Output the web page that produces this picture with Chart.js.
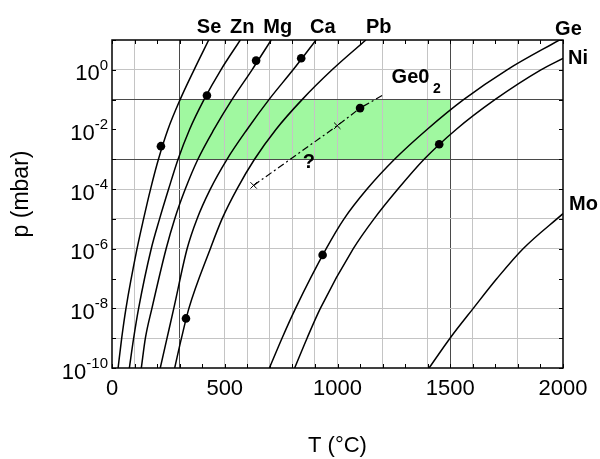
<!DOCTYPE html>
<html><head><meta charset="utf-8">
<script src="https://cdn.jsdelivr.net/npm/chart.js@4.4.1/dist/chart.umd.min.js"></script>
<style>html,body{margin:0;padding:0;background:#fff}canvas{display:block}</style>
</head><body>
<div style="width:600px;height:459px;position:relative"><canvas id="c" width="600" height="459"></canvas></div>
<script>
// ---- data (T in °C, p in mbar) ----
const decades = [1e-10,1e-9,1e-8,1e-6,1e-5,1e-4,1e-3,1e-2,1e-1,1e0,1e1];
const seT = [27, 43, 62, 111, 140, 171, 206, 248, 302, 364, 429];
const znT = [77, 96, 118, 174, 211, 251, 293, 344, 408, 483, 569];
const mgT = [130, 148, 177, 240, 278, 325, 381, 452, 532, 621, 706];
const caT = [214, 244, 274, 333, 377, 436, 510, 599, 696, 803, 905];
const pbT = [278, 308, 341, 436, 488, 554, 632, 727, 843, 976, 1126];
const geT = [698, 754, 814, 950, 1029, 1131, 1253, 1397, 1559, 1752, 1984];
const niT = [810, 865, 924, 1070, 1162, 1268, 1384, 1526, 1698, 1902, 2000];
const niP = [1e-10,1e-9,1e-8,1e-6,1e-5,1e-4,1e-3,1e-2,1e-1,1e0,2.43];
const moT = [1406, 1499, 1602, 1707, 1823, 2000];
const moP = [1e-10, 1e-9, 1e-8, 1e-7, 1e-6, 1.5e-5];
const geo2T = [628, 999, 1100, 1203];
const geo2P = [1.33e-4, 1.33e-2, 0.052, 0.146];
const crossT = [628, 999];
const crossP = [1.33e-4, 1.33e-2];
const meltT = [217, 421, 639, 839, 328, 934, 1451, 1100];
const meltP = [2.75e-3, 0.138, 2.04, 2.45, 4.6e-9, 6.2e-7, 3.2e-3, 0.052];
const xTickLabels = [0, 500, 1000, 1500, 2000];
const yTickExps = [0, -2, -4, -6, -8, -10];
const boxT = [300, 1500];
const boxP = [1e-3, 1e-1];
const darkX = [300, 1500];
const lightX = [100, 500, 600, 700, 800, 900, 1000, 1200, 1400, 1600, 1800];
const darkY = [1e-1, 1e-3];
const lightY = [1e0, 1e-4, 1e-5, 1e-6, 1e-8, 1e-9];
// labels: text, T (°C), p (mbar) or dy => above the plot (px from top)
const notes = [
  {t:'Se', T:376, dy:-7}, {t:'Zn', T:523, dy:-7}, {t:'Mg', T:671, dy:-7},
  {t:'Ca', T:878, dy:-7}, {t:'Pb', T:1126, dy:-7}, {t:'Ge', T:1965, dy:-5},
  {t:'Ni', T:2022, p:1.61}, {t:'Mo', T:2027, p:2.04e-5},
  {t:'Ge0', T:1240, p:0.352}, {t:'?', T:846, p:4.95e-4}
];
const sub = {t:'2', T:1423, p:0.163};

const zip = (xs, ys) => xs.map((x,i)=>({x, y: ys[i]}));
const curve = (T, P) => ({data: zip(T, P), borderColor:'#000', borderWidth:1.5, pointRadius:0,
  cubicInterpolationMode:'monotone', fill:false});
const FONT = "'Liberation Sans', Arial, Helvetica, sans-serif";

const decor = {
  id:'decor',
  beforeDraw(chart){
    const {ctx, scales:{x, y}} = chart;
    ctx.save();
    ctx.fillStyle = '#fff'; ctx.fillRect(0,0,chart.width,chart.height);
    ctx.fillStyle = '#a0f8a0';
    const x0 = x.getPixelForValue(boxT[0]), x1 = x.getPixelForValue(boxT[1]);
    const y0 = y.getPixelForValue(boxP[1]), y1 = y.getPixelForValue(boxP[0]);
    ctx.fillRect(x0, y0, x1-x0, y1-y0);
    ctx.restore();
  },
  afterDraw(chart){
    const {ctx, chartArea:a, scales:{x, y}} = chart;
    ctx.save();
    // inner ticks
    ctx.strokeStyle = '#000'; ctx.lineWidth = 1;
    ctx.beginPath();
    for (let v=0; v<=2000; v+=100){
      const px = Math.round(x.getPixelForValue(v))+0.5;
      ctx.moveTo(px, a.bottom); ctx.lineTo(px, a.bottom-4);
      ctx.moveTo(px, a.top); ctx.lineTo(px, a.top+4);
    }
    for (let e=-10; e<=1; e++){
      const py = Math.round(y.getPixelForValue(Math.pow(10,e)))+0.5;
      ctx.moveTo(a.left, py); ctx.lineTo(a.left+4, py);
      ctx.moveTo(a.right, py); ctx.lineTo(a.right-4, py);
    }
    ctx.stroke();
    // frame
    ctx.lineWidth = 1.5;
    ctx.strokeRect(a.left, a.top, a.right-a.left, a.bottom-a.top);
    // y tick labels 10^n
    ctx.fillStyle = '#000';
    ctx.textBaseline = 'alphabetic';
    for (const e of yTickExps){
      const py = y.getPixelForValue(Math.pow(10,e));
      ctx.font = '15px ' + FONT;
      const es = String(e);
      const ew = ctx.measureText(es).width;
      const right = a.left - 4;
      ctx.textAlign = 'left';
      ctx.fillText(es, right - ew, py);
      ctx.font = '22px ' + FONT;
      ctx.textAlign = 'right';
      ctx.fillText('10', right - ew, py + 10.5);
    }
    // axis titles
    ctx.font = '22px ' + FONT;
    ctx.textAlign = 'center';
    ctx.fillText('T (\u00B0C)', (a.left+a.right)/2, 452);
    ctx.save();
    ctx.translate(28, (a.top+a.bottom)/2 - 10);
    ctx.rotate(-Math.PI/2);
    ctx.font = '23px ' + FONT;
    ctx.fillText('p (mbar)', 0, 0);
    ctx.restore();
    // notes
    ctx.font = 'bold 20px ' + FONT;
    ctx.textAlign = 'left';
    for (const n of notes){
      const px = x.getPixelForValue(n.T);
      const py = (n.p === undefined) ? a.top + n.dy : y.getPixelForValue(n.p);
      ctx.fillText(n.t, px, py);
    }
    ctx.font = 'bold 14px ' + FONT;
    ctx.fillText(sub.t, x.getPixelForValue(sub.T), y.getPixelForValue(sub.p));
    ctx.restore();
  }
};

const gridColor = (vals, darks) => (c) => {
  const v = c.tick && c.tick.value;
  if (darks.some(d => Math.abs(d - v) <= Math.abs(d)*1e-6 + 1e-12)) return '#4a4a4a';
  if (vals.some(d => Math.abs(d - v) <= Math.abs(d)*1e-6 + 1e-12)) return '#c4c4c4';
  return 'rgba(0,0,0,0)';
};

new Chart(document.getElementById('c'), {
  type:'line',
  data:{datasets:[
    curve(seT, decades), curve(znT, decades), curve(mgT, decades), curve(caT, decades),
    curve(pbT, decades), curve(geT, decades), curve(niT, niP), curve(moT, moP),
    {data: zip(geo2T, geo2P), borderColor:'#000', borderWidth:1.2, borderDash:[7,3,2,3], pointRadius:0, fill:false},
    {type:'scatter', data: zip(crossT, crossP), pointStyle:'crossRot', pointRadius:4.5, borderColor:'#000', borderWidth:1, showLine:false},
    {type:'scatter', data: zip(meltT, meltP), pointStyle:'circle', pointRadius:4.3, backgroundColor:'#000', borderColor:'#000', borderWidth:0, showLine:false}
  ]},
  options:{
    responsive:false, animation:false, events:[],
    layout:{padding:{top:40, right:37, left:0, bottom:0}},
    plugins:{legend:{display:false}, tooltip:{enabled:false}},
    scales:{
      x:{type:'linear', min:0, max:2000,
        afterBuildTicks:(s)=>{ const t=[]; for(let v=0; v<=2000; v+=100) t.push({value:v}); s.ticks=t; },
        afterFit:(s)=>{ s.height = 91; },
        ticks:{autoSkip:false, maxRotation:0, padding:8, color:'#000', font:{family:FONT, size:22},
          callback:(v)=> xTickLabels.includes(v) ? String(v) : ''},
        grid:{drawTicks:false, color:gridColor(lightX, darkX), lineWidth:1},
        border:{display:false}
      },
      y:{type:'logarithmic', min:1e-10, max:10,
        afterBuildTicks:(s)=>{ const t=[]; for(let e=-10; e<=1; e++) t.push({value:Math.pow(10,e)}); s.ticks=t; },
        afterFit:(s)=>{ s.width = 112; },
        ticks:{display:false},
        grid:{drawTicks:false, color:gridColor(lightY, darkY), lineWidth:1},
        border:{display:false}
      }
    }
  },
  plugins:[decor]
});
</script>
</body></html>
